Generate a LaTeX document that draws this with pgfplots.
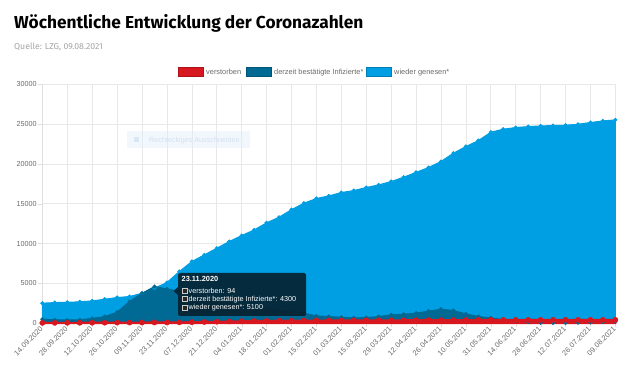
\documentclass[border=0pt]{standalone}
\usepackage{fontspec}
\setmainfont{Liberation Sans}
\newfontfamily\titlefont{Fira Sans}
\usepackage{pgfplots}
\pgfplotsset{compat=1.18}
\definecolor{lb}{RGB}{0,159,227}
\definecolor{db}{RGB}{0,105,148}
\definecolor{rd}{RGB}{215,24,32}
\definecolor{txt}{RGB}{105,105,105}
\definecolor{subt}{RGB}{165,165,165}
\definecolor{gridc}{RGB}{232,232,232}
\definecolor{tip}{RGB}{6,34,48}
\definecolor{ovbox}{RGB}{225,238,250}
\definecolor{ovicon}{RGB}{200,220,240}
\definecolor{ovtxt}{RGB}{210,224,238}
\begin{document}
\begin{tikzpicture}[x=1pt,y=1pt]
\path[use as bounding box] (0,0) rectangle (640,371);
% title
\node[anchor=base west,inner sep=0pt] at (14,342.7) {\titlefont\bfseries\fontsize{17.3}{20}\selectfont Wöchentliche Entwicklung der Coronazahlen};
\node[anchor=base west,inner sep=0pt,text=subt] at (14,321.7) {\titlefont\fontsize{8.7}{10}\selectfont Quelle: LZG, 09.08.2021};
\begin{axis}[
  at={(34,60)}, anchor=south west, scale only axis,
  width=573pt, height=239pt,
  xmin=0, xmax=46, ymin=0, ymax=30000,
  clip=false,
  axis x line*=bottom, axis y line*=left,
  axis line style={draw=gray!25,-},
  tick style={draw=gray!25}, major tick length=4pt, tick align=outside,
  grid=major, grid style={draw=gridc, line width=0.6pt},
  xtick={0,2,...,46},
  xticklabels={14.09.2020,28.09.2020,12.10.2020,26.10.2020,09.11.2020,23.11.2020,07.12.2020,21.12.2020,04.01.2021,18.01.2021,01.02.2021,15.02.2021,01.03.2021,15.03.2021,29.03.2021,12.04.2021,26.04.2021,10.05.2021,31.05.2021,14.06.2021,28.06.2021,12.07.2021,26.07.2021,09.08.2021},
  xticklabel style={rotate=45, anchor=east, font=\fontsize{7.4}{8}\selectfont, text=txt, inner sep=1pt},
  ytick={0,5000,...,30000},
  yticklabel style={font=\fontsize{7.2}{8}\selectfont, text=txt, inner sep=1.5pt},
  /pgf/number format/assume math mode=true,
  /pgf/number format/1000 sep={},
  scaled y ticks=false,
]
% wieder genesen
\addplot[draw=lb, fill=lb, line width=1pt, mark=*, mark size=1.5pt, mark options={fill=lb,draw=lb}] coordinates {
(0,2510)(1,2590)(2,2630)(3,2680)(4,2800)(5,3010)(6,3220)(7,3350)(8,3760)(9,4400)
(10,5100)(11,6490)(12,7740)(13,8570)(14,9410)(15,10250)(16,11000)(17,11700)(18,12600)(19,13300)
(20,14250)(21,15060)(22,15650)(23,15980)(24,16400)(25,16650)(26,17030)(27,17360)(28,17780)(29,18320)
(30,18930)(31,19540)(32,20290)(33,21340)(34,22170)(35,22920)(36,23970)(37,24350)(38,24560)(39,24680)
(40,24760)(41,24810)(42,24850)(43,24970)(44,25190)(45,25390)(46,25520)
} \closedcycle;
% derzeit bestaetigte Infizierte
\addplot[draw=db, fill=db, line width=1pt, mark=*, mark size=1.5pt, mark options={fill=db,draw=db}] coordinates {
(0,500)(1,420)(2,400)(3,430)(4,600)(5,830)(6,1380)(7,2720)(8,3760)(9,4600)
(10,4300)(11,4000)(12,3600)(13,3200)(14,2900)(15,2600)(16,2300)(17,2000)(18,1750)(19,1550)
(20,1400)(21,1255)(22,920)(23,840)(24,750)(25,670)(26,700)(27,840)(28,1050)(29,1130)
(30,1255)(31,1510)(32,1760)(33,1590)(34,1170)(35,840)(36,670)(37,450)(38,300)(39,150)
(40,60)(41,30)(42,30)(43,60)(44,100)(45,150)(46,200)
} \closedcycle;
% verstorben
\addplot[draw=rd, fill=rd, line width=2pt, mark=*, mark size=2.6pt, mark options={fill=rd,draw=rd,line width=0.5pt}] coordinates {
(0,40)(1,45)(2,50)(3,55)(4,60)(5,65)(6,72)(7,78)(8,85)(9,90)
(10,94)(11,110)(12,130)(13,160)(14,190)(15,220)(16,250)(17,275)(18,295)(19,310)
(20,320)(21,330)(22,335)(23,340)(24,345)(25,350)(26,355)(27,360)(28,365)(29,370)
(30,375)(31,380)(32,385)(33,390)(34,395)(35,400)(36,404)(37,406)(38,408)(39,409)
(40,410)(41,411)(42,412)(43,413)(44,414)(45,415)(46,416)
} \closedcycle;
\end{axis}
% faint screenshot overlay
\fill[ovbox, fill opacity=0.45] (127,371-131) rectangle (250,371-148);
\fill[ovicon, fill opacity=0.6] (134,371-137) rectangle (139,371-142);
\node[anchor=base west, inner sep=0pt, text=ovtxt] at (149,371-143) {\fontsize{7.2}{8}\selectfont Rechteckiges Ausschneiden};
% legend
\fill[rd] (178,371-76) rectangle (203,371-67);
\draw[rd!80!black, line width=0.5pt] (178,371-76) rectangle (203,371-67);
\node[anchor=base west, inner sep=0pt, text=txt] at (206,371-74.2) {\fontsize{7.4}{8}\selectfont verstorben};
\fill[db] (246,371-76) rectangle (271,371-67);
\draw[db!80!black, line width=0.5pt] (246,371-76) rectangle (271,371-67);
\node[anchor=base west, inner sep=0pt, text=txt] at (274,371-74.2) {\fontsize{7.4}{8}\selectfont derzeit bestätigte Infizierte*};
\fill[lb] (366,371-76) rectangle (391,371-67);
\draw[lb!80!black, line width=0.5pt] (366,371-76) rectangle (391,371-67);
\node[anchor=base west, inner sep=0pt, text=txt] at (394,371-74.2) {\fontsize{7.4}{8}\selectfont wieder genesen*};
% tooltip
\fill[tip, fill opacity=0.92, rounded corners=2pt] (178,371-273) rectangle (306,371-316);
\fill[tip, fill opacity=0.92] (178,371-287) -- (173.5,371-291) -- (178,371-295) -- cycle;
\node[anchor=base west, inner sep=0pt, text=white] at (181.5,371-281.7) {\fontsize{7.4}{8}\selectfont\bfseries 23.11.2020};
\foreach \yy/\tt in {293.3/{verstorben: 94}, 301.7/{derzeit bestätigte Infizierte*: 4300}, 310/{wieder genesen*: 5100}} {
  \filldraw[fill=black!85, draw=white!80!black, line width=0.5pt] (182,371-\yy) rectangle (187,371-\yy+5);
  \node[anchor=base west, inner sep=0pt, text=white] at (188.5,371-\yy) {\fontsize{7.2}{8}\selectfont \tt};
}
\end{tikzpicture}
\end{document}
